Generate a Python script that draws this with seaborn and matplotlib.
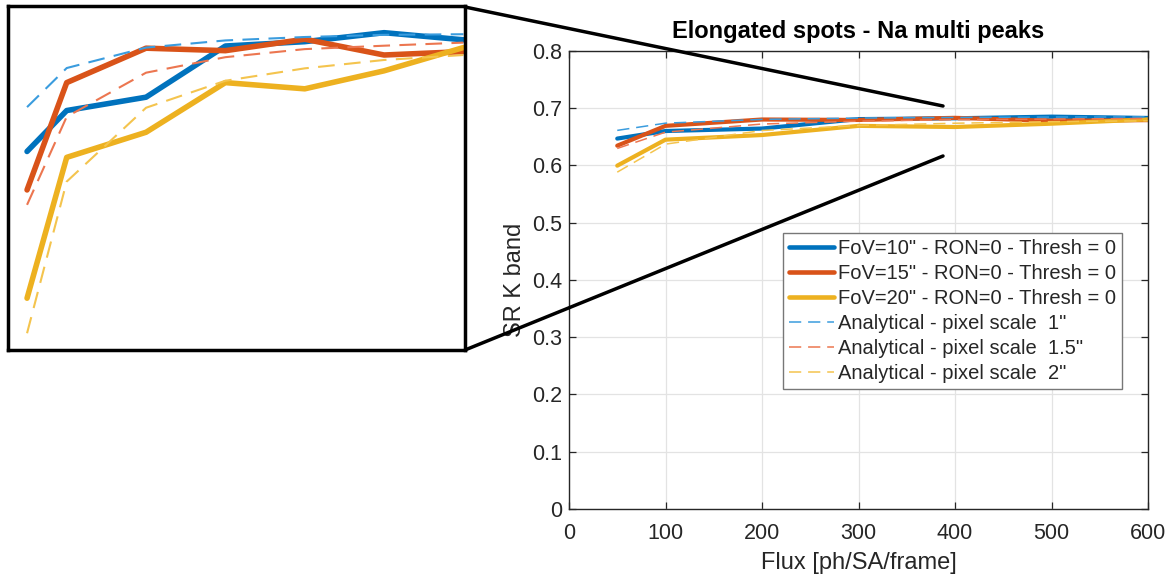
import matplotlib
matplotlib.use("Agg")
import matplotlib.pyplot as plt
from matplotlib.lines import Line2D
import seaborn as sns
import pandas as pd

# ---- data ----
flux = [50, 100, 200, 300, 400, 500, 600]
fov10 = [0.6466, 0.6598, 0.6641, 0.6806, 0.6820, 0.6849, 0.6826]
fov15 = [0.6342, 0.6688, 0.6799, 0.6791, 0.6828, 0.6777, 0.6788]
fov20 = [0.5993, 0.6447, 0.6528, 0.6688, 0.6668, 0.6726, 0.6801]
ana1 = [0.6609, 0.6735, 0.6801, 0.6824, 0.6835, 0.6842, 0.6844]
ana15 = [0.6294, 0.6578, 0.6720, 0.6770, 0.6796, 0.6807, 0.6817]
ana2 = [0.5880, 0.6369, 0.6607, 0.6694, 0.6734, 0.6761, 0.6777]

labels = ['FoV=10" - RON=0 - Thresh = 0',
          'FoV=15" - RON=0 - Thresh = 0',
          'FoV=20" - RON=0 - Thresh = 0',
          'Analytical - pixel scale  1"',
          'Analytical - pixel scale  1.5"',
          'Analytical - pixel scale  2"']
series = [fov10, fov15, fov20, ana1, ana15, ana2]
colors = ['#0072BD', '#D95319', '#EDB120', '#3A9CDE', '#EC7650', '#F4C44E']
solid = [True, True, True, False, False, False]

title = 'Elongated spots - Na multi peaks'
xlabel = 'Flux [ph/SA/frame]'
ylabel = 'SR K band'
xticks = [0, 100, 200, 300, 400, 500, 600]
yticks = [0, 0.1, 0.2, 0.3, 0.4, 0.5, 0.6, 0.7, 0.8]

sns.set_theme(style="white")
plt.rcParams['font.family'] = ['Liberation Sans', 'DejaVu Sans']

fig = plt.figure(figsize=(11.73, 5.82), dpi=100)
W, H = 1173, 582

def fig_rect(x0, y0, x1, y1):
    return [x0 / W, 1 - y1 / H, (x1 - x0) / W, (y1 - y0) / H]

ax = fig.add_axes(fig_rect(569, 50.7, 1148, 509))
axi = fig.add_axes(fig_rect(8, 6, 465, 350))

dash = (0, (8, 4.5))
handles = []
for s, lab, c, so in zip(series, labels, colors, solid):
    df = pd.DataFrame({'x': flux, 'y': s})
    lw_main = 3.0 if so else 1.1
    lw_in = 4.0 if so else 1.5
    ls = '-' if so else dash
    sns.lineplot(data=df, x='x', y='y', ax=ax, color=c, linewidth=lw_main,
                 linestyle=ls, legend=False)
    sns.lineplot(data=df, x='x', y='y', ax=axi, color=c, linewidth=lw_in,
                 linestyle=ls, legend=False)
    handles.append(Line2D([], [], color=c, linewidth=(3.3 if so else 1.1),
                          linestyle=ls, label=lab))

# main axes styling
ax.set_xlim(0, 600)
ax.set_ylim(0, 0.8)
ax.set_xticks(xticks)
ax.set_yticks(yticks)
ax.set_xticklabels([str(t) for t in xticks])
ax.set_yticklabels(['0' if t == 0 else f'{t:.1f}' for t in yticks])
ax.grid(True, color='#e3e3e3', linewidth=0.9)
ax.set_axisbelow(True)
ax.tick_params(direction='in', length=5, width=0.9, colors='#262626',
               labelsize=15.5, top=True, right=True, bottom=True, left=True)
ax.tick_params(axis='x', pad=10)
ax.tick_params(axis='y', pad=5)
for sp in ax.spines.values():
    sp.set_color('#262626')
    sp.set_linewidth(1.0)
ax.set_title(title, fontsize=17, fontweight='bold', color='#000000', pad=9)
ax.set_xlabel(xlabel, fontsize=17, color='#262626', labelpad=6)
ax.set_ylabel(ylabel, fontsize=17, color='#262626', labelpad=4)

leg = ax.legend(handles=handles, loc='upper left',
                bbox_to_anchor=((783 - 569) / 579, 1 - (233 - 50.7) / 458.3),
                fontsize=14.5, frameon=True, fancybox=False, framealpha=1,
                edgecolor='#777777', handlelength=2.25, handletextpad=0.2,
                labelspacing=0.3, borderpad=0.3, borderaxespad=0)
leg.get_frame().set_linewidth(1.0)
for t in leg.get_texts():
    t.set_color('#262626')

# inset styling
axi.set_xlim(26, 602)
axi.set_ylim(0.5826, 0.6935)
axi.set_xticks([])
axi.set_yticks([])
axi.set_xlabel('')
axi.set_ylabel('')
axi.set_facecolor('white')
for sp in axi.spines.values():
    sp.set_color('black')
    sp.set_linewidth(2.5)

# connector lines
for (x0, y0, x1, y1) in [(465, 7, 943, 106), (465, 350, 943, 156)]:
    fig.add_artist(Line2D([x0 / W, x1 / W], [1 - y0 / H, 1 - y1 / H],
                          transform=fig.transFigure, color='black',
                          linewidth=2.5, zorder=10))

fig.savefig('out.png', dpi=100)
